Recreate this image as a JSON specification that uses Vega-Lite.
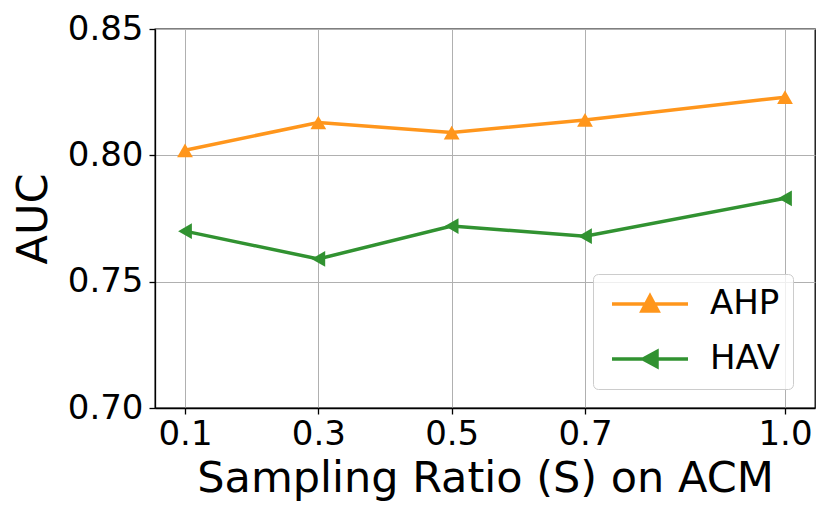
{
  "$schema": "https://vega.github.io/schema/vega-lite/v6.json",
  "width": 660,
  "height": 379,
  "autosize": {"type": "none"},
  "padding": {"left": 155, "top": 29, "right": 15, "bottom": 111},
  "background": "white",
  "config": {
    "font": "DejaVu Sans",
    "view": {"stroke": "black", "strokeWidth": 1.3},
    "axis": {
      "labelFont": "DejaVu Sans",
      "labelFontSize": 34,
      "labelColor": "black",
      "titleFont": "DejaVu Sans",
      "titleFontSize": 43,
      "titleFontWeight": "normal",
      "titleColor": "black",
      "domainColor": "black",
      "domainWidth": 1.3,
      "tickColor": "black",
      "tickWidth": 1.3,
      "tickSize": 6,
      "gridColor": "#b0b0b0",
      "gridWidth": 1
    }
  },
  "data": {
    "values": [
      {"ratio": 0.1, "auc": 0.802, "method": "AHP"},
      {"ratio": 0.3, "auc": 0.813, "method": "AHP"},
      {"ratio": 0.5, "auc": 0.809, "method": "AHP"},
      {"ratio": 0.7, "auc": 0.814, "method": "AHP"},
      {"ratio": 1.0, "auc": 0.823, "method": "AHP"},
      {"ratio": 0.1, "auc": 0.770, "method": "HAV"},
      {"ratio": 0.3, "auc": 0.759, "method": "HAV"},
      {"ratio": 0.5, "auc": 0.772, "method": "HAV"},
      {"ratio": 0.7, "auc": 0.768, "method": "HAV"},
      {"ratio": 1.0, "auc": 0.783, "method": "HAV"}
    ]
  },
  "encoding": {
    "x": {
      "field": "ratio",
      "type": "quantitative",
      "scale": {"domain": [0.055, 1.045], "nice": false, "zero": false},
      "axis": {
        "title": "Sampling Ratio (S) on ACM",
        "values": [0.1, 0.3, 0.5, 0.7, 1.0],
        "format": ".1f",
        "labelPadding": 3,
        "titlePadding": 6
      }
    },
    "y": {
      "field": "auc",
      "type": "quantitative",
      "scale": {"domain": [0.70, 0.85], "nice": false, "zero": false},
      "axis": {
        "title": "AUC",
        "values": [0.70, 0.75, 0.80, 0.85],
        "format": ".2f",
        "labelPadding": 6,
        "titlePadding": 12
      }
    },
    "color": {
      "field": "method",
      "type": "nominal",
      "scale": {"domain": ["AHP", "HAV"], "range": ["#ff961c", "#319231"]},
      "legend": {
        "title": null,
        "orient": "none",
        "legendX": 438,
        "legendY": 245,
        "padding": 13,
        "fillColor": "rgba(255,255,255,0.8)",
        "strokeColor": "#cccccc",
        "cornerRadius": 5,
        "labelFont": "DejaVu Sans",
        "labelFontSize": 34,
        "labelColor": "black",
        "labelOffset": 70,
        "rowPadding": 21,
        "symbolSize": 400,
        "symbolStrokeWidth": 3.5,
        "encode": {
          "symbols": {
            "update": {
              "shape": {"signal": "datum.value === 'AHP' ? 'M-1.1,0H6.5M2.7,-0.8L3.5,0.7L1.9,0.7Z' : 'M-1.1,0H6.5M2.0,0L3.4,-0.75L3.4,0.75Z'"},
              "fill": {"signal": "scale('color', datum.value)"},
              "stroke": {"signal": "scale('color', datum.value)"},
              "strokeWidth": {"value": 3.5},
              "opacity": {"value": 1}
            }
          }
        }
      }
    }
  },
  "layer": [
    {
      "mark": {"type": "line", "strokeWidth": 3.5}
    },
    {
      "transform": [{"filter": "datum.method === 'AHP'"}],
      "mark": {"type": "point", "filled": true, "size": 250, "opacity": 1, "shape": "triangle-up"}
    },
    {
      "transform": [{"filter": "datum.method === 'HAV'"}],
      "mark": {"type": "point", "filled": true, "size": 250, "opacity": 1, "shape": "triangle-left"}
    }
  ]
}
